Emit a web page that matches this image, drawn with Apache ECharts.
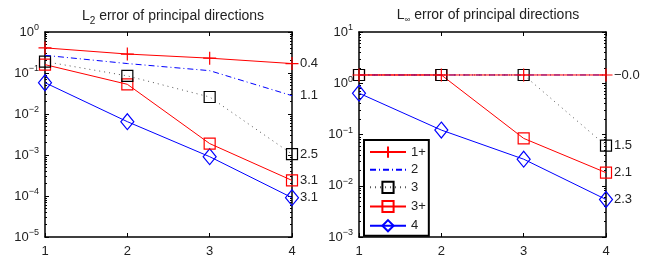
<!DOCTYPE html>
<html>
<head>
<meta charset="utf-8">
<script src="https://cdn.jsdelivr.net/npm/echarts@6/dist/echarts.min.js"></script>
<style>
  html, body { margin: 0; padding: 0; background: #fff; }
  #chart { width: 665px; height: 263px; }
</style>
</head>
<body>
<div id="chart"></div>
<script>
// levels on the x axis
const levels = [1, 2, 3, 4];
const seriesNames = ["1+", "2", "3", "3+", "4"];

// L2 error (left panel)
const l2_1p = [0.41, 0.29, 0.23, 0.17];
const l2_2 = [0.27, 0.17, 0.114, 0.028];
const l2_3 = [0.19, 0.085, 0.026, 0.00105];
const l2_3p = [0.16, 0.053, 0.0019, 0.00024];
const l2_4 = [0.058, 0.0065, 0.00091, 0.000091];
const l2Rates = ["0.4", "1.1", "2.5", "3.1", "3.1"];

// Linf error (right panel)
const linf_1p = [1.45, 1.45, 1.45, 1.45];
const linf_2 = [1.45, 1.45, 1.45, 1.45];
const linf_3 = [1.45, 1.45, 1.45, 0.0605];
const linf_3p = [1.45, 1.45, 0.084, 0.018];
const linf_4 = [0.64, 0.122, 0.033, 0.0054];
const linfRates = ["\u22120.0", "", "1.5", "2.1", "2.3"];

const fontFam = "Liberation Sans, Arial, sans-serif";
const red = "#ff0000";
const blue = "#0000ff";

const plusPath = "path://M0,-10 L0,10 M-10,0 L10,0";

// styles for each series: colour, line type, symbol
const styles = [
  { color: red, type: "solid", symbol: plusPath, size: 13, bw: 1.2 },
  { color: blue, type: [6, 3, 1, 3], symbol: "none", size: 0, bw: 0 },
  { color: "#000", type: [1, 4], symbol: "rect", size: 11, bw: 1.2, lineColor: "#555" },
  { color: red, type: "solid", symbol: "rect", size: 11, bw: 1.2 },
  { color: blue, type: "solid", symbol: "diamond", size: [13, 16], bw: 1.2 },
];

function 指数标签(v) {
  const e = Math.round(Math.log10(v));
  const s = e < 0 ? "\u2212" + Math.abs(e) : String(e);
  return "10{s|" + s + "}";
}

const grids = [
  { left: 45, top: 32, width: 247, height: 205 },
  { left: 359, top: 32, width: 247, height: 205 },
];

const xAxes = [];
const yAxes = [];
[0, 1].forEach((g) => {
  const base = {
    type: "value", gridIndex: g, min: 1, max: 4, interval: 1,
    axisLine: { show: true, onZero: false, lineStyle: { color: "#000", width: 1.5 } },
    axisTick: { show: true, inside: true, length: 4, lineStyle: { color: "#000" } },
    splitLine: { show: false },
  };
  xAxes.push(Object.assign({}, base, {
    position: "bottom",
    axisLabel: { color: "#222", fontSize: 13, fontFamily: fontFam, margin: 8 },
  }));
  xAxes.push(Object.assign({}, base, { position: "top", axisLabel: { show: false } }));

  const yMin = g === 0 ? 1e-5 : 1e-3;
  const yMax = g === 0 ? 1 : 10;
  const ybase = {
    type: "log", logBase: 10, gridIndex: g, min: yMin, max: yMax, interval: 1,
    axisLine: { show: true, onZero: false, lineStyle: { color: "#000", width: 1.5 } },
    axisTick: { show: true, inside: true, length: 4, lineStyle: { color: "#000" } },
    minorTick: { show: true, splitNumber: 9, length: 2, lineStyle: { color: "#000" } },
    splitLine: { show: false },
  };
  yAxes.push(Object.assign({}, ybase, {
    position: "left",
    axisLabel: {
      color: "#222", fontSize: 13, fontFamily: fontFam, margin: 6,
      formatter: 指数标签,
      rich: { s: { fontSize: 9, verticalAlign: "top", padding: [0, 0, 8, 0], fontFamily: fontFam, color: "#222" } },
    },
  }));
  yAxes.push(Object.assign({}, ybase, { position: "right", axisLabel: { show: false } }));
});

function makeSeries(dataSets, rates, g) {
  return dataSets.map((vals, i) => {
    const st = styles[i];
    return {
      name: seriesNames[i],
      type: "line",
      xAxisIndex: g * 2,
      yAxisIndex: g * 2,
      data: levels.map((x, k) => [x, vals[k]]),
      symbol: st.symbol,
      symbolSize: st.size,
      showSymbol: st.symbol !== "none",
      animation: false,
      lineStyle: { color: st.lineColor || st.color, width: 1, type: st.type },
      itemStyle: { color: "none", borderColor: st.bw ? st.color : "none", borderWidth: st.bw },
      emphasis: { disabled: true },
      endLabel: {
        show: rates[i] !== "",
        formatter: rates[i],
        color: "#222",
        fontSize: 13,
        fontFamily: fontFam,
        distance: 8,
      },
      z: 5 - i,
    };
  });
}

const option = {
  backgroundColor: "#fff",
  animation: false,
  title: [
    {
      text: "L{sub|2} error of principal directions",
      left: 168, top: 2, textAlign: "center",
      textStyle: {
        fontSize: 14, fontWeight: "normal", color: "#222", fontFamily: fontFam,
        rich: { sub: { fontSize: 10, verticalAlign: "bottom", padding: [9, 0, 0, 0], fontFamily: fontFam, color: "#222" } },
      },
    },
    {
      text: "L{sub|\u221e} error of principal directions",
      left: 483, top: 2, textAlign: "center",
      textStyle: {
        fontSize: 14, fontWeight: "normal", color: "#222", fontFamily: fontFam,
        rich: { sub: { fontSize: 8, verticalAlign: "bottom", padding: [9, 0, 0, 0], fontFamily: fontFam, color: "#222" } },
      },
    },
  ],
  legend: {
    data: seriesNames,
    left: 364, top: 140,
    orient: "vertical",
    itemWidth: 36, itemHeight: 14, itemGap: 3,
    padding: [4, 3, 2, 5],
    borderColor: "#000", borderWidth: 2,
    backgroundColor: "#fff",
    textStyle: { color: "#222", fontSize: 13, fontFamily: fontFam },
    selectedMode: false,
    z: 10,
  },
  grid: grids,
  xAxis: xAxes,
  yAxis: yAxes,
  series: [
    ...makeSeries([l2_1p, l2_2, l2_3, l2_3p, l2_4], l2Rates, 0),
    ...makeSeries([linf_1p, linf_2, linf_3, linf_3p, linf_4], linfRates, 1),
  ],
};

const chart = echarts.init(document.getElementById("chart"));
chart.setOption(option);
</script>
</body>
</html>
